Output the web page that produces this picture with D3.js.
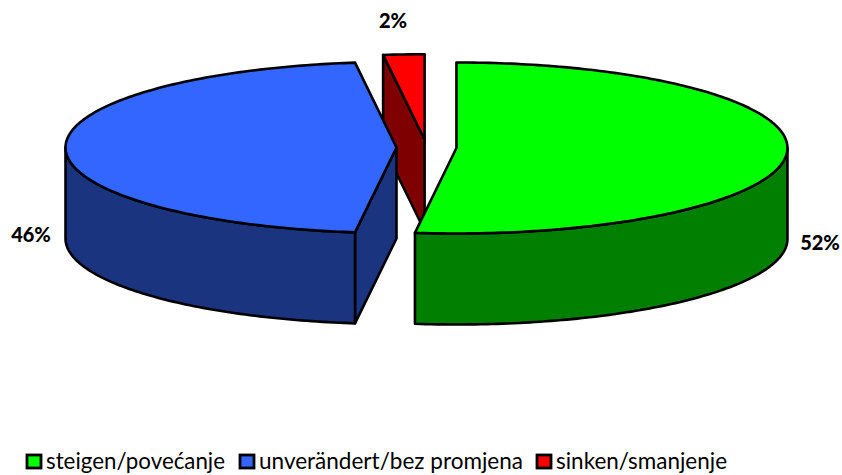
<!DOCTYPE html>
<html><head><meta charset="utf-8">
<style>html,body{margin:0;padding:0;background:#fff}svg{display:block}</style>
<script src="https://cdnjs.cloudflare.com/ajax/libs/d3/7.8.5/d3.min.js"></script>
</head><body><svg id="c" width="842" height="475"></svg>
<script>
const categories = ["steigen/povećanje","unverändert/bez promjena","sinken/smanjenje"];
const values = [52,46,2];
const valueLabels = ["52%","46%","2%"];
const topColors = ["#00ff00","#3366ff","#ff0000"];
const sideColors = ["#007f00","#1a347f","#7f0000"];
const labelPos = [[820,243],[31,235],[393,21]];
const legendSwatchX = [27,240,537];
const legendTextWidth = [179,264,171];

const cx=426.5, cy=147.5, rx=331, ry=85.5, depth=91, explode=30;
const svg=d3.select("#c");
const arcs=d3.pie().sort(null).value(d=>d)(values);
const pt=(c,a,r=1)=>[c[0]+rx*r*Math.sin(a), c[1]-ry*r*Math.cos(a)];
const centerOf=d=>{const m=(d.startAngle+d.endAngle)/2;
  return [cx+explode*Math.sin(m), cy-explode*ry/rx*Math.cos(m)];};
const rim=(c,a0,a1)=>{const n=Math.max(2,Math.ceil(Math.abs(a1-a0)*60));
  return d3.range(n+1).map(i=>pt(c,a0+(a1-a0)*i/n));};
const line=d3.line();
const down=p=>[p[0],p[1]+depth];
const style=(s,fill)=>s.attr("fill",fill).attr("stroke","#000").attr("stroke-width",2.6).attr("stroke-linejoin","round");
const poly=(pts,fill)=>style(svg.append("path").attr("d",line(pts)+"Z"),fill);

// paint order: red, blue, green
[2,1,0].forEach(i=>{
  const d=arcs[i], c=centerOf(d), s=d.startAngle, e=d.endAngle;
  if(i===1||i===2){const p=pt(c,s);poly([c,p,down(p),down(c)],sideColors[i]);}
  const a0=Math.max(s,Math.PI/2), a1=Math.min(e,3*Math.PI/2);
  if(a1>a0){const r=rim(c,a0,a1);poly(r.concat(r.slice().reverse().map(down)),sideColors[i]);}
  poly([c].concat(rim(c,s,e)),topColors[i]);
});

values.forEach((v,i)=>{
  svg.append("text").attr("x",labelPos[i][0]).attr("y",labelPos[i][1]+6.5)
    .attr("text-anchor","middle").attr("font-family","Lato, sans-serif")
    .attr("font-weight",900).attr("font-size",20).attr("fill","#000").text(valueLabels[i]);
});
categories.forEach((t,i)=>{
  svg.append("rect").attr("x",legendSwatchX[i]).attr("y",455).attr("width",14).attr("height",13)
    .attr("fill",topColors[i]).attr("stroke","#000").attr("stroke-width",2.8);
  svg.append("text").attr("x",legendSwatchX[i]+19).attr("y",469)
    .attr("font-family","Lato, sans-serif").attr("font-size",23).attr("fill","#000")
    .attr("textLength",legendTextWidth[i]).attr("lengthAdjust","spacingAndGlyphs").text(t);
});
</script></body></html>
